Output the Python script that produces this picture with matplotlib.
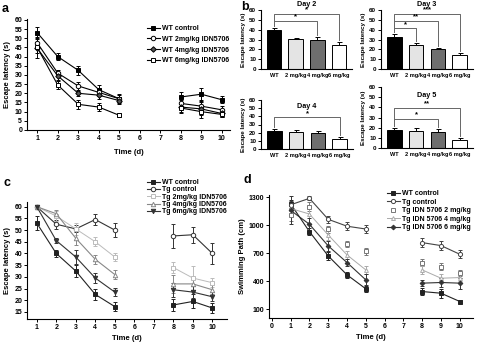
import matplotlib
matplotlib.use('Agg')
import matplotlib.pyplot as plt
import numpy as np

plt.rcParams['font.family'] = ['Liberation Sans', 'DejaVu Sans']
plt.rcParams['font.weight'] = 'bold'
plt.rcParams['axes.labelweight'] = 'bold'
plt.rcParams['axes.linewidth'] = 0.8
plt.rcParams['xtick.major.width'] = 0.7
plt.rcParams['ytick.major.width'] = 0.7
plt.rcParams['xtick.major.size'] = 2
plt.rcParams['ytick.major.size'] = 2
plt.rcParams['xtick.major.pad'] = 1.5
plt.rcParams['ytick.major.pad'] = 1.5

W, H = 482, 344
fig = plt.figure(figsize=(4.82, 3.44), dpi=100)


def box(l, t, r, b):
    return [l / W, 1 - b / H, (r - l) / W, (b - t) / H]


days = [1, 2, 3, 4, 5, 8, 9, 10]

# ---------------- Panel a data ----------------
a_labels = ['WT control', 'WT 2mg/kg IDN5706', 'WT 4mg/kg IDN5706', 'WT 6mg/kg IDN5706']
a_ctrl = [53, 40, 32.5, 22, 17, 18, 19.5, 16.5]
a_ctrl_err = [3, 2, 2.5, 2.5, 2.5, 2.5, 3.5, 2]
a_2mg = [47.5, 31, 24, 20.5, 17, 14.5, 13, 11]
a_2mg_err = [3, 1.5, 2, 2, 2, 2, 2, 2]
a_4mg = [44.5, 29.5, 20, 19, 16, 12.5, 11.5, 9]
a_4mg_err = [5, 2, 1.5, 2, 2, 3, 5, 2]
a_6mg = [45, 24.5, 14, 12.5, 8, 12, 10, 8.5]
a_6mg_err = [3, 2, 2.5, 2, 1, 2, 2, 1.5]

# ---------------- Panel b data ----------------
b_cats = ['WT', '2 mg/kg', '4 mg/kg', '6 mg/kg']
b_titles = ['Day 2', 'Day 3', 'Day 4', 'Day 5']
b_day2 = [40, 31, 29.5, 24.5]
b_day2_err = [2, 1, 3, 2.5]
b_day3 = [33, 24, 20, 14]
b_day3_err = [2.5, 2, 1, 2]
b_day4 = [22.5, 20.5, 19, 12.5]
b_day4_err = [2.5, 3, 2.5, 2.5]
b_day5 = [17.5, 17, 16, 8]
b_day5_err = [2.5, 3, 2.5, 1.5]
b_sig_day2 = [(0, 3, 56, '*'), (0, 2, 49, '*')]
b_sig_day3 = [(0, 3, 56, '***'), (0, 2, 49, '**'), (0, 1, 41.5, '*')]
b_sig_day4 = [(0, 3, 39, '*')]
b_sig_day5 = [(0, 3, 39.5, '**'), (0, 2, 29, '*')]

# ---------------- Panel c data ----------------
c_labels = ['WT control', 'Tg control', 'Tg 2mg/kg IDN5706', 'Tg 4mg/kg IDN5706', 'Tg 6mg/kg IDN5706']
c_wt = [53, 40, 32.5, 22.5, 17.3, 18, 19.5, 16.7]
c_wt_err = [3, 1.5, 2.5, 2.5, 1.8, 2.5, 3, 2.2]
c_tg = [60, 52.5, 50.5, 54.5, 50, 47.5, 48, 40]
c_tg_err = [0.5, 2, 1.5, 2.3, 3, 5, 3.5, 4.5]
c_2mg = [60, 56, 50.5, 45, 38.5, 34, 29.5, 27.5]
c_2mg_err = [0.5, 2, 2.5, 2, 1.5, 2.5, 5, 2]
c_4mg = [60, 57, 46.5, 37.5, 31, 27, 27, 24.5]
c_4mg_err = [0.5, 1.5, 3, 2, 2, 4, 3, 2]
c_6mg = [60, 45.5, 38.5, 29.5, 23.5, 24.5, 23.5, 21.5]
c_6mg_err = [0.5, 1, 3, 2, 1.8, 3, 2.5, 2]

# ---------------- Panel d data ----------------
d_labels = ['WT control', 'Tg control', 'Tg IDN 5706 2 mg/kg', 'Tg IDN 5706 4 mg/kg', 'Tg IDN 5706 6 mg/kg']
d_wt = [1230, 932, 671, 468, 318, 289, 271, 182]
d_wt_err = [40, 40, 40, 30, 35, 35, 50, 20]
d_tg = [1220, 1289, 1064, 990, 960, 814, 782, 689]
d_tg_err = [40, 20, 40, 40, 40, 50, 45, 45]
d_2mg = [1110, 1200, 957, 800, 720, 600, 557, 486]
d_2mg_err = [60, 50, 40, 30, 35, 35, 40, 35]
d_4mg = [1180, 1121, 896, 682, 521, 521, 432, 439]
d_4mg_err = [60, 100, 50, 40, 40, 45, 40, 40]
d_6mg = [1160, 1011, 779, 600, 414, 379, 386, 379]
d_6mg_err = [150, 70, 50, 35, 60, 35, 50, 60]


def series(ax, x, y, e, marker, mfc, color, ms, label, ls='-', lw=0.8):
    x = np.array(x); y = np.array(y); e = np.array(e)
    ax.errorbar(x, y, yerr=e, fmt='none', ecolor=color, elinewidth=0.7,
                capsize=1.6, capthick=0.7, zorder=2)
    s1 = x <= 5
    s2 = x >= 8
    ax.plot(x[s1], y[s1], ls=ls, color=color, lw=lw, marker=marker, mfc=mfc,
            mec=color, mew=0.7, ms=ms, label=label, zorder=3)
    ax.plot(x[s2], y[s2], ls=ls, color=color, lw=lw, marker=marker, mfc=mfc,
            mec=color, mew=0.7, ms=ms, zorder=3)


def style(ax, fs=5):
    ax.spines['top'].set_visible(False)
    ax.spines['right'].set_visible(False)
    ax.tick_params(labelsize=fs)
    for t in ax.get_xticklabels() + ax.get_yticklabels():
        t.set_fontweight('bold')


def legend(ax, x, y, fs, spacing, hl=1.8):
    ax.legend(loc='upper left', bbox_to_anchor=(x / W, 1 - y / H),
              bbox_transform=fig.transFigure, frameon=False, fontsize=fs,
              borderpad=0, borderaxespad=0, labelspacing=spacing,
              handlelength=hl, handletextpad=0.4, prop={'weight': 'bold', 'size': fs})


# ---------------- Panel a ----------------
ax = fig.add_axes(box(27, 19, 230, 130))
series(ax, days, a_ctrl, a_ctrl_err, 's', 'black', 'black', 2.8, a_labels[0])
series(ax, days, a_2mg, a_2mg_err, 'o', 'white', 'black', 3.2, a_labels[1])
series(ax, days, a_4mg, a_4mg_err, 'D', '#555555', 'black', 2.8, a_labels[2])
series(ax, days, a_6mg, a_6mg_err, 's', 'white', 'black', 3.0, a_labels[3])
ax.set_xlim(0.5, 10.4)
ax.set_ylim(0, 60.5)
ax.set_xticks(range(1, 11))
ax.set_yticks(range(0, 61, 5))
ax.set_xlabel('Time (d)', fontsize=5.5, labelpad=5)
ax.set_ylabel('Escape latency (s)', fontsize=5.5, labelpad=2)
style(ax)
legend(ax, 147, 25, 5, 0.55)
fig.text(2 / W, 1 - 9 / H, 'a', fontsize=9, fontweight='bold', va='center')

# ---------------- Panel b ----------------
b_vals = [b_day2, b_day3, b_day4, b_day5]
b_errs = [b_day2_err, b_day3_err, b_day4_err, b_day5_err]
b_sigs = [b_sig_day2, b_sig_day3, b_sig_day4, b_sig_day5]
b_boxes = [(261, 10, 352, 69), (381, 10, 473, 69), (261, 100, 353, 149), (381, 87, 473, 148)]
bar_colors = ['black', '#e4e4e4', '#6e6e6e', 'white']
for k in range(4):
    ax = fig.add_axes(box(*b_boxes[k]))
    xs = np.arange(len(b_cats))
    vals = np.array(b_vals[k]); errs = np.array(b_errs[k])
    ax.bar(xs, vals, width=0.68, color=bar_colors, edgecolor='black', linewidth=0.7, zorder=2)
    ax.errorbar(xs, vals, yerr=[np.zeros_like(errs), errs], fmt='none', ecolor='black',
                elinewidth=0.7, capsize=1.8, capthick=0.7, zorder=1)
    for (i, j, yb, lab) in b_sigs[k]:
        li = vals[i] + errs[i] + 2
        lj = vals[j] + errs[j] + 2
        ax.plot([xs[i], xs[i], xs[j], xs[j]], [li, yb, yb, lj], color='#666666', lw=0.7,
                clip_on=False, zorder=3)
        ax.text((xs[i] + xs[j]) / 2, yb + 0.3, lab, ha='center', va='bottom', fontsize=5.5,
                fontweight='bold', clip_on=False)
    ax.set_xlim(-0.6, 3.6)
    ax.set_ylim(0, 60)
    ax.set_yticks(range(0, 61, 10))
    ax.set_xticks(xs)
    ax.set_xticklabels(b_cats)
    ax.tick_params(axis='x', length=0, pad=3)
    ax.set_ylabel('Escape latency (s)', fontsize=4.5, labelpad=2)
    style(ax, 4.5)
    for t in ax.get_xticklabels():
        t.set_fontsize(4.1)
    if k < 2:
        ax.set_title(b_titles[k], fontsize=5.2, fontweight='bold', pad=3)
    else:
        ax.text(1.5, 52, b_titles[k], ha='center', va='center', fontsize=5.2, fontweight='bold')
fig.text(241 / W, 1 - 7 / H, 'b', fontsize=9, fontweight='bold', va='center')

# ---------------- Panel c ----------------
ax = fig.add_axes(box(27, 202, 227, 319))
series(ax, days, c_wt, c_wt_err, 's', '#222222', '#222222', 2.6, c_labels[0])
series(ax, days, c_tg, c_tg_err, 'o', 'white', '#333333', 3.2, c_labels[1])
series(ax, days, c_2mg, c_2mg_err, 's', 'white', '#bbbbbb', 3.0, c_labels[2], lw=0.7)
series(ax, days, c_4mg, c_4mg_err, '^', 'white', '#888888', 3.2, c_labels[3], lw=0.8)
series(ax, days, c_6mg, c_6mg_err, 'v', '#333333', '#333333', 3.2, c_labels[4])
ax.set_xlim(0.5, 10.75)
ax.set_ylim(12, 62)
ax.set_xticks(range(1, 11))
ax.set_yticks(range(15, 61, 5))
ax.set_xlabel('Time (d)', fontsize=5.5, labelpad=3)
ax.set_ylabel('Escape latency (s)', fontsize=5.5, labelpad=2)
style(ax)
legend(ax, 147, 179, 5, 0.05)
fig.text(4 / W, 1 - 183 / H, 'c', fontsize=9, fontweight='bold', va='center')

# ---------------- Panel d ----------------
ax = fig.add_axes(box(269, 195, 473, 318))
series(ax, days, d_wt, d_wt_err, 's', '#222222', '#222222', 2.6, d_labels[0])
series(ax, days, d_tg, d_tg_err, 'o', 'white', '#444444', 3.0, d_labels[1])
series(ax, days, d_2mg, d_2mg_err, 's', 'white', '#777777', 3.0, d_labels[2], ls='none')
series(ax, days, d_4mg, d_4mg_err, '^', 'white', '#aaaaaa', 2.8, d_labels[3], lw=0.7)
series(ax, days, d_6mg, d_6mg_err, 'D', '#333333', '#333333', 2.4, d_labels[4])
ax.set_xlim(-0.15, 10.7)
ax.set_ylim(5, 1325)
ax.set_xticks(range(0, 11))
ax.set_yticks([100, 400, 700, 1000, 1300])
ax.set_xlabel('Time (d)', fontsize=5.5, labelpad=3)
ax.set_ylabel('Swimming Path (cm)', fontsize=5.5, labelpad=2)
style(ax)
legend(ax, 387, 190, 5, 0.22)
fig.text(244 / W, 1 - 180 / H, 'd', fontsize=9, fontweight='bold', va='center')

fig.savefig('out.png', dpi=100)
